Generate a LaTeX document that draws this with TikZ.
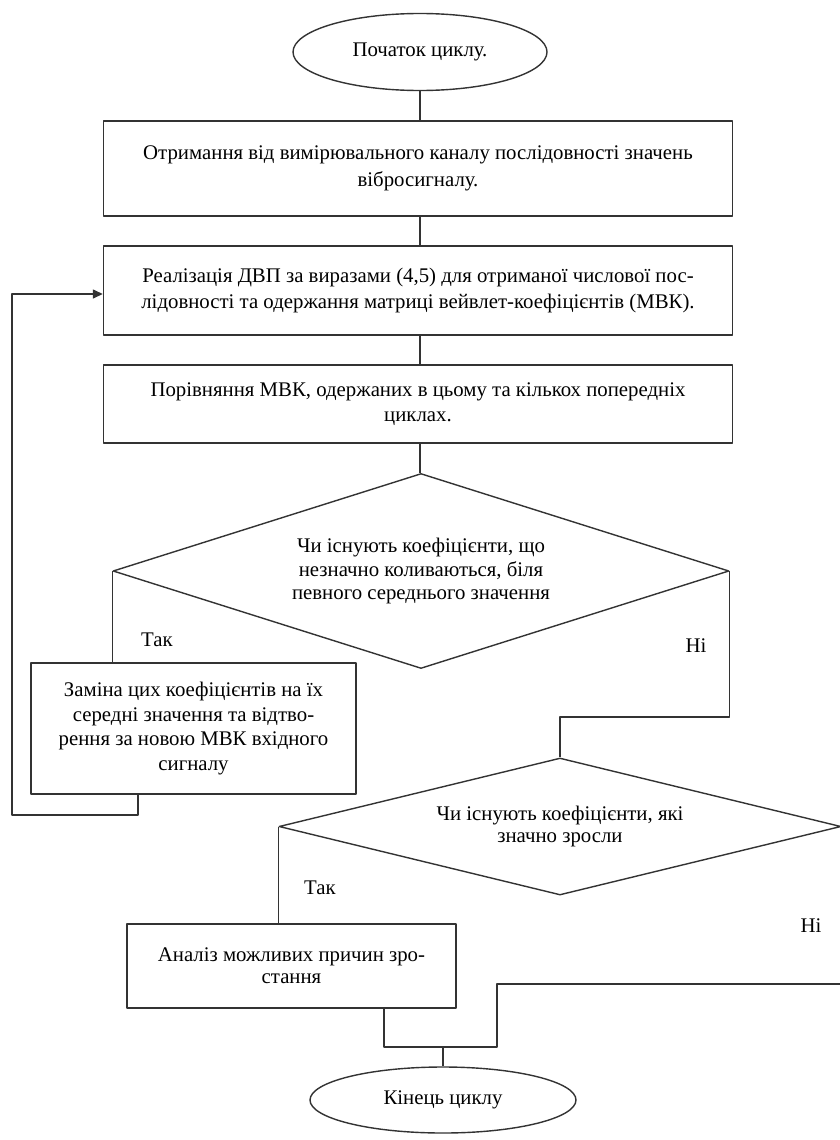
\documentclass[tikz,border=0pt]{standalone}
\usepackage{fontspec}
\setmainfont{Liberation Serif}
\usetikzlibrary{shapes.geometric,arrows.meta,calc}
\begin{document}
\begin{tikzpicture}[x=0.5pt,y=-0.5pt,line width=0.7pt,join=round]
    \tikzstyle{proc} = [draw=black!80,rectangle,align=center,inner sep=2pt,font=\fontsize{10.4}{12.5}\selectfont]
    \tikzstyle{term} = [draw=black!80,ellipse,inner sep=0pt,font=\fontsize{10.4}{12}\selectfont]
    \tikzstyle{dec} = [draw=black!80,diamond,align=center,inner sep=0pt,font=\fontsize{10.4}{11.6}\selectfont]
    \tikzstyle{ann} = [font=\fontsize{10.4}{12}\selectfont,inner sep=1pt]
    \tikzstyle{wire} = [draw=black!80]
    \useasboundingbox[fill=white] (0,0) rectangle (840,1140);
    % main column
    \node[term,minimum width=127pt,minimum height=38.5pt] (start) at (420,52) {Початок циклу.};
    \node[proc,minimum width=314.5pt,minimum height=47.5pt,font=\fontsize{10.4}{13.3}\selectfont] (box1) at (418,168.5)
        {Отримання від вимірювального каналу послідовності значень\\вібросигналу.};
    \node[proc,minimum width=314.5pt,minimum height=44.5pt,font=\fontsize{10.4}{13.3}\selectfont] (box2) at (418,290.5)
        {Реалізація ДВП за виразами (4,5) для отриманої числової пос-\\лідовності та одержання матриці вейвлет-коефіцієнтів (МВК).};
    \node[proc,minimum width=314.5pt,minimum height=39pt] (box3) at (418,404)
        {\strut Порівняння МВК, одержаних в цьому та кількох попередніх\\циклах.\strut};
    \node[dec,aspect=3.2,minimum width=308pt,minimum height=97.5pt] (d1) at (421,571)
        {Чи існують коефіцієнти, що\\незначно коливаються, біля\\певного середнього значення};
    % left branch
    \node[proc,minimum width=162.5pt,minimum height=65.5pt,font=\fontsize{10.4}{12.2}\selectfont] (box4) at (193.5,728.5)
        {Заміна цих коефіцієнтів на їх\\середні значення та відтво-\\рення за новою МВК вхідного\\сигналу};
    % second check
    \node[dec,aspect=4.1,minimum width=281pt,minimum height=68.5pt,font=\fontsize{10.4}{11}\selectfont] (d2) at (560,826.5)
        {Чи існують коефіцієнти, які\\значно зросли};
    \node[proc,minimum width=164.5pt,minimum height=42pt,font=\fontsize{10.4}{11}\selectfont] (box5) at (291.5,966)
        {Аналіз можливих причин зро-\\стання};
    \node[term,minimum width=133pt,minimum height=33pt] (end) at (443,1100) {Кінець циклу};
    % branch labels
    \node[ann] (yes1) at (157,640) {Так};
    \node[ann] (no1) at (696,646) {Ні};
    \node[ann] (yes2) at (320,888) {Так};
    \node[ann] (no2) at (811,926) {Ні};
    % connectors
    \coordinate (jn) at (443,1047);
    \draw[wire] (start.south) -- (start.south |- box1.north);
    \draw[wire] (box1.south -| start.south) -- (box2.north -| start.south);
    \draw[wire] (box2.south -| start.south) -- (box3.north -| start.south);
    \draw[wire] (box3.south -| start.south) -- (d1.north -| start.south);
    \draw[wire] (d1.west) -- (d1.west |- box4.north);
    \draw[wire,-{Triangle[length=5pt,width=4.5pt]}] ($(box4.south west)!.33!(box4.south east)$)
        |- (12,815) |- (box2.west |- 0,294);
    \draw[wire] (d1.east) -- ++(0,146) -| (d2.north);
    \draw[wire] (d2.west) -- (d2.west |- box5.north);
    \draw[wire] ($(box5.south west)!.78!(box5.south east)$) |- (jn);
    \draw[wire] (d2.east) |- (497,984) |- (jn);
    \draw[wire] (jn) -- (end.north);
\end{tikzpicture}
\end{document}
